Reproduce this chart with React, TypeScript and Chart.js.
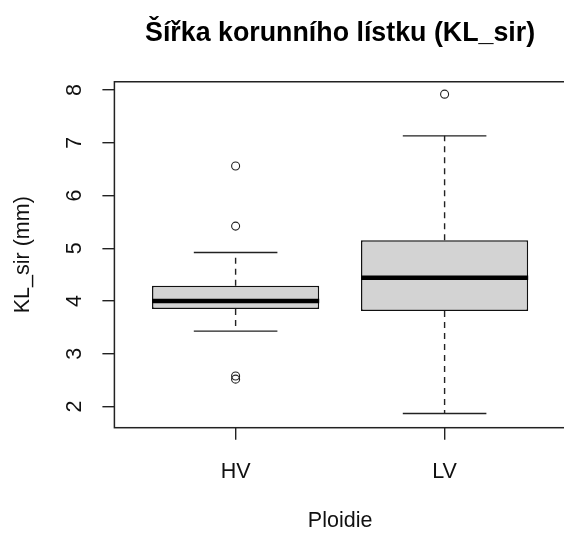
import React, { useEffect, useRef } from "react";
import { Chart, registerables } from "chart.js";

Chart.register(...registerables);

const TITLE = "Šířka korunního lístku (KL_sir)";
const X_TITLE = "Ploidie";
const Y_TITLE = "KL_sir (mm)";
const CATEGORIES = ["HV", "LV"];
const Q1 = [3.85, 3.81];
const MEDIAN = [4.0, 4.44];
const Q3 = [4.29, 5.15];
const WHISKER_LOW = [3.43, 1.87];
const WHISKER_HIGH = [4.92, 7.13];
const OUTLIERS_HV = [6.56, 5.42, 2.58, 2.52];
const OUTLIERS_LV = [7.92];
const Y_TICKS = [2, 3, 4, 5, 6, 7, 8];
const Y_MIN = 1.6;
const Y_MAX = 8.155;
const X_MIN = 0.42;
const X_MAX = 2.58;

const FONT = "'Liberation Sans', Arial, sans-serif";

const boxPlugin = {
  id: "boxExtras",
  beforeDatasetsDraw(chart: any) {
    const { ctx, scales } = chart;
    const xs = scales.x;
    const ys = scales.y;
    ctx.save();
    ctx.strokeStyle = "#222";
    ctx.lineWidth = 1.4;
    CATEGORIES.forEach((_, i) => {
      const c = i + 1;
      const x = xs.getPixelForValue(c);
      ctx.setLineDash([6, 5]);
      ctx.beginPath();
      ctx.moveTo(x, ys.getPixelForValue(Q1[i]));
      ctx.lineTo(x, ys.getPixelForValue(WHISKER_LOW[i]));
      ctx.moveTo(x, ys.getPixelForValue(Q3[i]));
      ctx.lineTo(x, ys.getPixelForValue(WHISKER_HIGH[i]));
      ctx.stroke();
      ctx.setLineDash([]);
      ctx.beginPath();
      const xl = xs.getPixelForValue(c - 0.2);
      const xr = xs.getPixelForValue(c + 0.2);
      [WHISKER_LOW[i], WHISKER_HIGH[i]].forEach((v) => {
        const y = ys.getPixelForValue(v);
        ctx.moveTo(xl, y);
        ctx.lineTo(xr, y);
      });
      ctx.stroke();
    });
    ctx.restore();
  },
  afterDatasetsDraw(chart: any) {
    const { ctx, scales, chartArea } = chart;
    const xs = scales.x;
    const ys = scales.y;
    ctx.save();
    ctx.strokeStyle = "#000";
    ctx.lineWidth = 4.5;
    CATEGORIES.forEach((_, i) => {
      const c = i + 1;
      const y = ys.getPixelForValue(MEDIAN[i]);
      ctx.beginPath();
      ctx.moveTo(xs.getPixelForValue(c - 0.4), y);
      ctx.lineTo(xs.getPixelForValue(c + 0.4), y);
      ctx.stroke();
    });
    ctx.strokeStyle = "#222";
    ctx.lineWidth = 1.5;
    ctx.strokeRect(
      chartArea.left,
      chartArea.top,
      chartArea.right - chartArea.left,
      chartArea.bottom - chartArea.top
    );
    ctx.restore();
  },
};

export default function App() {
  const ref = useRef<HTMLCanvasElement | null>(null);

  useEffect(() => {
    if (!ref.current) return;
    const chart = new Chart(ref.current, {
      type: "bar",
      data: {
        datasets: [
          {
            type: "bar",
            data: CATEGORIES.map((_, i) => ({ x: i + 1, y: [Q1[i], Q3[i]] })) as any,
            backgroundColor: "#d3d3d3",
            borderColor: "#111",
            borderWidth: 1.5,
            borderSkipped: false,
            categoryPercentage: 1,
            barPercentage: 0.8,
          } as any,
          {
            type: "scatter",
            data: [
              ...OUTLIERS_HV.map((v) => ({ x: 1, y: v })),
              ...OUTLIERS_LV.map((v) => ({ x: 2, y: v })),
            ],
            pointStyle: "circle",
            pointRadius: 4,
            pointBorderWidth: 1.1,
            borderColor: "#222",
            backgroundColor: "rgba(255,255,255,0)",
          } as any,
        ],
      },
      options: {
        responsive: false,
        devicePixelRatio: 1,
        animation: false,
        layout: { padding: { left: 0, right: 6.2, top: 0, bottom: 0 } },
        plugins: {
          legend: { display: false },
          tooltip: { enabled: false },
          title: {
            display: true,
            text: TITLE,
            fullSize: false,
            color: "#000",
            font: { family: FONT, size: 26.8, weight: "bold" },
            padding: { top: 17.5, bottom: 32.1 },
          },
        },
        scales: {
          x: {
            type: "linear",
            min: X_MIN,
            max: X_MAX,
            offset: false,
            afterFit: (s: any) => {
              s.height = 106.3;
            },
            afterBuildTicks: (s: any) => {
              s.ticks = CATEGORIES.map((_, i) => ({ value: i + 1 }));
            },
            ticks: {
              callback: (v: any) => CATEGORIES[Number(v) - 1] ?? "",
              color: "#111",
              font: { family: FONT, size: 21.5 },
              padding: 19,
              maxRotation: 0,
              autoSkip: false,
            },
            grid: {
              offset: false,
              drawOnChartArea: false,
              drawTicks: true,
              tickLength: 12,
              color: "#222",
              lineWidth: 1.4,
            },
            border: { display: false },
            title: {
              display: true,
              text: X_TITLE,
              color: "#111",
              font: { family: FONT, size: 21.5 },
              padding: { top: 0, bottom: 0 },
            },
          },
          y: {
            type: "linear",
            min: Y_MIN,
            max: Y_MAX,
            afterFit: (s: any) => {
              s.width = 114.4;
            },
            afterBuildTicks: (s: any) => {
              s.ticks = Y_TICKS.map((v) => ({ value: v }));
            },
            ticks: {
              color: "#111",
              font: { family: FONT, size: 21.5 },
              padding: 21,
              minRotation: 90,
              maxRotation: 90,
              crossAlign: "center",
              autoSkip: false,
            },
            grid: {
              drawOnChartArea: false,
              drawTicks: true,
              tickLength: 12,
              color: "#222",
              lineWidth: 1.4,
            },
            border: { display: false },
            title: {
              display: true,
              text: Y_TITLE,
              color: "#111",
              font: { family: FONT, size: 21.5 },
              padding: { top: 10, bottom: 0 },
            },
          },
        },
      } as any,
      plugins: [boxPlugin],
    });
    return () => chart.destroy();
  }, []);

  return (
    <div
      style={{
        position: "fixed",
        left: 0,
        top: 0,
        width: 564,
        height: 534,
        overflow: "hidden",
        background: "#fff",
      }}
    >
      <canvas ref={ref} width={572} height={534} style={{ display: "block" }} />
    </div>
  );
}
